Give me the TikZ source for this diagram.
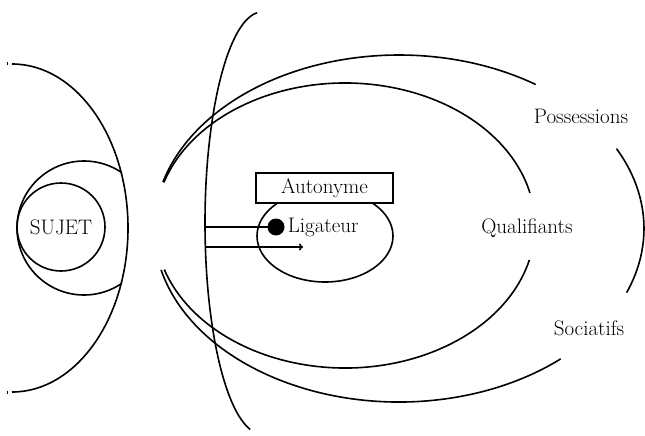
\documentclass[tikz,border=0pt]{standalone}
\usetikzlibrary{arrows.meta}
\begin{document}
\begin{tikzpicture}[x=1pt,y=1pt, line width=1.6pt,
  lbl/.style={font=\fontsize{21}{25}\selectfont, inner sep=0pt},
  ring/.style={draw}]
\useasboundingbox (0,0) rectangle (645,-436);

% subject side: big half-ellipse, its end ticks, outer ring and the SUJET circle
\draw (12,-228) ++(90:116 and 164) arc[start angle=90, end angle=-90, x radius=116, y radius=164];
\draw[line width=1pt] (7,-62.5) -- (7,-65.5);
\draw[line width=1pt] (7,-390.5) -- (7,-393.5);
\begin{scope}
  \clip (12,-228) ellipse[x radius=116, y radius=164];
  \draw (84,-228) circle[radius=67];
\end{scope}
\node[ring, circle, minimum size=88pt, lbl] (sujet) at (61,-227) {SUJET};

% tall boundary arc
\draw (262,-223) ++(95:57 and 211) arc[start angle=95, end angle=258, x radius=57, y radius=211];

% outer ellipse (possessions / sociatifs)
\draw (399,-228.5) ++(164.5:245 and 173.5) arc[start angle=164.5, end angle=56.1, x radius=245, y radius=173.5];
\draw (399,-228.5) ++(193.8:245 and 173.5) arc[start angle=193.8, end angle=311.3, x radius=245, y radius=173.5];
\draw (399,-228.5) ++(27.4:245 and 173.5) arc[start angle=27.4, end angle=-21.7, x radius=245, y radius=173.5];

% inner ellipse (qualifiants)
\draw (345,-225.5) ++(162.4:190 and 142.5) arc[start angle=162.4, end angle=13.2, x radius=190, y radius=142.5];
\draw (345,-225.5) ++(-14:190 and 142.5) arc[start angle=-14, end angle=-162, x radius=190, y radius=142.5];

% ligateur ellipse with the autonyme box on top
\draw (325,-236) ellipse[x radius=68, y radius=46];
\node[ring, fill=white, minimum width=137pt, minimum height=30pt, lbl] (auto) at (324.5,-188) {Autonyme};
\node[circle, fill=black, minimum size=17pt, inner sep=0pt] (dot) at (276,-227) {};
\node[lbl, anchor=base west] (lig) at (287,-232) {Ligateur};

% links from the boundary arc
\coordinate (s1) at (205,-227);
\coordinate (s2) at (205.4,-247);
\coordinate (tip) at (303,-247);
\draw (s1) -- (dot.center);
\draw[-{To[length=4pt,width=7pt]}] (s2) -- (tip);

% outer labels
\node[lbl, anchor=base] (poss) at (581,-123) {Possessions};
\node[lbl, anchor=base] (qual) at (527,-233) {Qualifiants};
\node[lbl, anchor=base] (soc) at (589,-335) {Sociatifs};
\end{tikzpicture}
\end{document}
